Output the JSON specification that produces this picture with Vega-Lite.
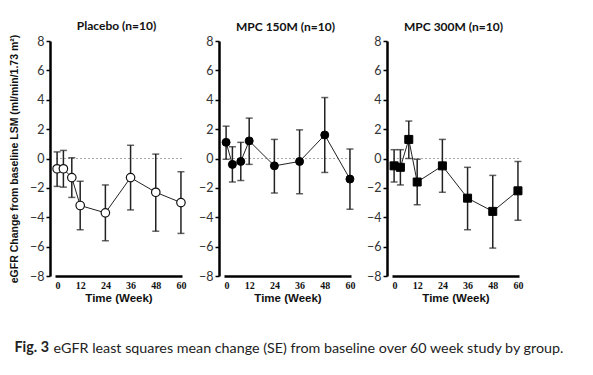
{
  "$schema": "https://vega.github.io/schema/vega-lite/v6.json",
  "padding": {"left": 9, "top": 20, "right": 5, "bottom": 5},
  "background": "white",
  "config": {
    "view": {"stroke": null},
    "font": "Lato",
    "concat": {"spacing": 10},
    "axis": {"labelOverlap": false, "grid": false, "domainColor": "black", "domainWidth": 2.5},
    "axisX": {"ticks": false, "labelFont": "Liberation Sans Narrow", "labelFontWeight": "bold", "labelFontSize": 10, "labelColor": "#111", "labelPadding": 4, "titleFont": "Liberation Sans", "titleFontWeight": "bold", "titleFontSize": 11.5, "titleColor": "#111", "titlePadding": 2},
    "axisY": {"offset": 5, "tickColor": "black", "tickSize": 4, "tickWidth": 1.5, "labelFont": "Lato", "labelFontSize": 12.5, "labelColor": "#333", "labelPadding": 2, "titleFont": "Liberation Sans", "titleFontWeight": "bold", "titleFontSize": 10.5, "titleColor": "#111", "titlePadding": 10}
  },
  "data": {"values": [
    {"group": "Placebo", "week": 1, "mean": -0.7, "lo": -1.9, "hi": 0.45},
    {"group": "Placebo", "week": 4, "mean": -0.7, "lo": -1.95, "hi": 0.55},
    {"group": "Placebo", "week": 8, "mean": -1.3, "lo": -2.65, "hi": 0.05},
    {"group": "Placebo", "week": 12, "mean": -3.2, "lo": -4.85, "hi": -1.55},
    {"group": "Placebo", "week": 24, "mean": -3.7, "lo": -5.6, "hi": -1.8},
    {"group": "Placebo", "week": 36, "mean": -1.3, "lo": -3.5, "hi": 0.9},
    {"group": "Placebo", "week": 48, "mean": -2.3, "lo": -4.95, "hi": 0.3},
    {"group": "Placebo", "week": 60, "mean": -3.0, "lo": -5.1, "hi": -0.9},
    {"group": "MPC150", "week": 1, "mean": 1.1, "lo": -0.05, "hi": 2.2},
    {"group": "MPC150", "week": 4, "mean": -0.4, "lo": -1.6, "hi": 0.8},
    {"group": "MPC150", "week": 8, "mean": -0.2, "lo": -1.5, "hi": 1.1},
    {"group": "MPC150", "week": 12, "mean": 1.2, "lo": -0.4, "hi": 2.75},
    {"group": "MPC150", "week": 24, "mean": -0.5, "lo": -2.35, "hi": 1.3},
    {"group": "MPC150", "week": 36, "mean": -0.2, "lo": -2.4, "hi": 1.95},
    {"group": "MPC150", "week": 48, "mean": 1.6, "lo": -0.95, "hi": 4.15},
    {"group": "MPC150", "week": 60, "mean": -1.4, "lo": -3.45, "hi": 0.65},
    {"group": "MPC300", "week": 1, "mean": -0.5, "lo": -1.6, "hi": 0.6},
    {"group": "MPC300", "week": 4, "mean": -0.6, "lo": -1.8, "hi": 0.6},
    {"group": "MPC300", "week": 8, "mean": 1.3, "lo": 0.0, "hi": 2.55},
    {"group": "MPC300", "week": 12, "mean": -1.6, "lo": -3.15, "hi": -0.05},
    {"group": "MPC300", "week": 24, "mean": -0.5, "lo": -2.3, "hi": 1.3},
    {"group": "MPC300", "week": 36, "mean": -2.7, "lo": -4.85, "hi": -0.6},
    {"group": "MPC300", "week": 48, "mean": -3.6, "lo": -6.1, "hi": -1.15},
    {"group": "MPC300", "week": 60, "mean": -2.2, "lo": -4.2, "hi": -0.2}
  ]},
  "title": {"text": "eGFR least squares mean change (SE) from baseline over 60 week study by group.", "orient": "bottom", "anchor": "start", "font": "Lato", "fontSize": 14.3, "fontWeight": "normal", "color": "#222", "dx": 44, "dy": -13, "offset": 0},
  "vconcat": [
    {
      "title": {"text": "Fig. 3", "orient": "bottom", "anchor": "start", "font": "Lato", "fontSize": 14.3, "fontWeight": "bold", "color": "#222", "offset": 37, "dx": 5},
      "spacing": 10,
      "hconcat": [
        {
          "width": 127, "height": 235,
          "title": {"text": "Placebo (n=10)", "font": "Lato", "fontSize": 12, "fontWeight": "bold", "color": "#111", "offset": 1, "dx": -2},
          "transform": [{"filter": "datum.group === 'Placebo'"}],
          "layer": [
            {"mark": {"type": "rule", "strokeDash": [2, 2], "color": "#aaa", "strokeWidth": 1},
             "encoding": {"y": {"datum": 0, "type": "quantitative", "scale": {"domain": [-8, 8], "nice": false}, "axis": {"values": [-8, -6, -4, -2, 0, 2, 4, 6, 8], "title": "eGFR Change from baseline LSM (ml/min/1.73 m²)"}}}},
            {"mark": {"type": "errorbar", "color": "#222", "thickness": 1.5, "ticks": {"size": 7, "thickness": 1.5}},
             "encoding": {
               "x": {"field": "week", "type": "quantitative", "scale": {"domain": [0, 60.5], "nice": false}, "axis": {"values": [0, 12, 24, 36, 48, 60], "title": "Time (Week)"}},
               "y": {"field": "lo", "type": "quantitative", "axis": {"values": [-8, -6, -4, -2, 0, 2, 4, 6, 8], "title": "eGFR Change from baseline LSM (ml/min/1.73 m²)"}},
               "y2": {"field": "hi"}
             }},
            {"mark": {"type": "line", "color": "#222", "strokeWidth": 1},
             "encoding": {"x": {"field": "week", "type": "quantitative", "axis": {"values": [0, 12, 24, 36, 48, 60], "title": "Time (Week)"}}, "y": {"field": "mean", "type": "quantitative", "axis": {"values": [-8, -6, -4, -2, 0, 2, 4, 6, 8], "title": "eGFR Change from baseline LSM (ml/min/1.73 m²)"}}}},
            {"mark": {"type": "point", "shape": "circle", "filled": true, "fill": "white", "stroke": "#111", "strokeWidth": 1.2, "size": 72, "opacity": 1},
             "encoding": {"x": {"field": "week", "type": "quantitative", "axis": {"values": [0, 12, 24, 36, 48, 60], "title": "Time (Week)"}}, "y": {"field": "mean", "type": "quantitative", "axis": {"values": [-8, -6, -4, -2, 0, 2, 4, 6, 8], "title": "eGFR Change from baseline LSM (ml/min/1.73 m²)"}}}}
          ]
        },
        {
          "width": 127, "height": 235,
          "title": {"text": "MPC 150M (n=10)", "font": "Lato", "fontSize": 12, "fontWeight": "bold", "color": "#111", "offset": 1, "dx": -2},
          "transform": [{"filter": "datum.group === 'MPC150'"}],
          "layer": [
            {"mark": {"type": "rule", "strokeDash": [2, 2], "color": "#aaa", "strokeWidth": 1},
             "encoding": {"y": {"datum": 0, "type": "quantitative", "scale": {"domain": [-8, 8], "nice": false}, "axis": {"values": [-8, -6, -4, -2, 0, 2, 4, 6, 8], "title": null}}}},
            {"mark": {"type": "errorbar", "color": "#222", "thickness": 1.5, "ticks": {"size": 7, "thickness": 1.5}},
             "encoding": {
               "x": {"field": "week", "type": "quantitative", "scale": {"domain": [0, 60.5], "nice": false}, "axis": {"values": [0, 12, 24, 36, 48, 60], "title": "Time (Week)"}},
               "y": {"field": "lo", "type": "quantitative", "axis": {"values": [-8, -6, -4, -2, 0, 2, 4, 6, 8], "title": null}},
               "y2": {"field": "hi"}
             }},
            {"mark": {"type": "line", "color": "#222", "strokeWidth": 1},
             "encoding": {"x": {"field": "week", "type": "quantitative", "axis": {"values": [0, 12, 24, 36, 48, 60], "title": "Time (Week)"}}, "y": {"field": "mean", "type": "quantitative", "axis": {"values": [-8, -6, -4, -2, 0, 2, 4, 6, 8], "title": null}}}},
            {"mark": {"type": "point", "shape": "circle", "filled": true, "fill": "black", "stroke": "black", "strokeWidth": 1, "size": 64, "opacity": 1},
             "encoding": {"x": {"field": "week", "type": "quantitative", "axis": {"values": [0, 12, 24, 36, 48, 60], "title": "Time (Week)"}}, "y": {"field": "mean", "type": "quantitative", "axis": {"values": [-8, -6, -4, -2, 0, 2, 4, 6, 8], "title": null}}}}
          ]
        },
        {
          "width": 127, "height": 235,
          "title": {"text": "MPC 300M (n=10)", "font": "Lato", "fontSize": 12, "fontWeight": "bold", "color": "#111", "offset": 1, "dx": -2},
          "transform": [{"filter": "datum.group === 'MPC300'"}],
          "layer": [
            {"mark": {"type": "rule", "strokeDash": [2, 2], "color": "#aaa", "strokeWidth": 1},
             "encoding": {"y": {"datum": 0, "type": "quantitative", "scale": {"domain": [-8, 8], "nice": false}, "axis": {"values": [-8, -6, -4, -2, 0, 2, 4, 6, 8], "title": null}}}},
            {"mark": {"type": "errorbar", "color": "#222", "thickness": 1.5, "ticks": {"size": 7, "thickness": 1.5}},
             "encoding": {
               "x": {"field": "week", "type": "quantitative", "scale": {"domain": [0, 60.5], "nice": false}, "axis": {"values": [0, 12, 24, 36, 48, 60], "title": "Time (Week)"}},
               "y": {"field": "lo", "type": "quantitative", "axis": {"values": [-8, -6, -4, -2, 0, 2, 4, 6, 8], "title": null}},
               "y2": {"field": "hi"}
             }},
            {"mark": {"type": "line", "color": "#222", "strokeWidth": 1},
             "encoding": {"x": {"field": "week", "type": "quantitative", "axis": {"values": [0, 12, 24, 36, 48, 60], "title": "Time (Week)"}}, "y": {"field": "mean", "type": "quantitative", "axis": {"values": [-8, -6, -4, -2, 0, 2, 4, 6, 8], "title": null}}}},
            {"mark": {"type": "point", "shape": "square", "filled": true, "fill": "black", "stroke": "black", "strokeWidth": 1, "size": 64, "opacity": 1},
             "encoding": {"x": {"field": "week", "type": "quantitative", "axis": {"values": [0, 12, 24, 36, 48, 60], "title": "Time (Week)"}}, "y": {"field": "mean", "type": "quantitative", "axis": {"values": [-8, -6, -4, -2, 0, 2, 4, 6, 8], "title": null}}}}
          ]
        }
      ]
    }
  ]
}
